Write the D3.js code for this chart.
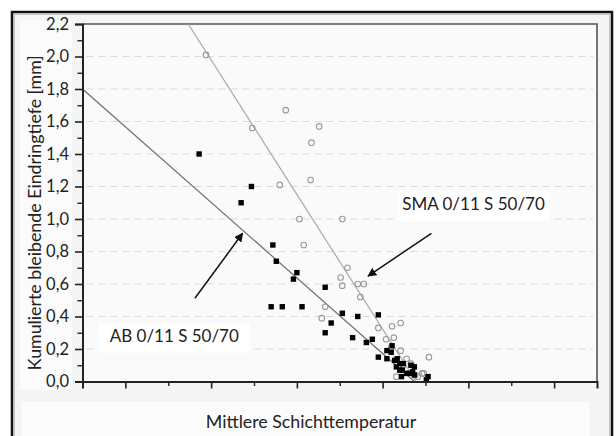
<!DOCTYPE html>
<html>
<head>
<meta charset="utf-8">
<script src="https://cdn.jsdelivr.net/npm/d3@7"></script>
<style>
  body { margin: 0; background: #fff; }
  svg { display: block; font-family: Lato, "Open Sans", sans-serif; }
</style>
</head>
<body>
<div id="chart"></div>
<script>
// Achsen
const yTicks = [0, 0.2, 0.4, 0.6, 0.8, 1.0, 1.2, 1.4, 1.6, 1.8, 2.0, 2.2];
const xMajor = [0, 10, 20, 30, 40, 50];
const xMinor = [5, 15, 25, 35, 45];

// AB 0/11 S 50/70 (schwarze Quadrate)
const abX = [8.6, 14.7, 13.5, 17.2, 17.6, 20.0, 19.6, 17.0, 18.3, 20.6, 23.3, 25.3, 27.1, 24.0, 23.3, 26.5, 29.5, 28.1, 28.8, 29.5,
  30.5, 31.1, 30.5, 31.0, 31.7, 32.0, 31.6, 32.0, 32.4, 32.8, 33.3, 33.7, 33.1, 33.7, 35.3, 35.1, 32.2, 31.4, 32.3, 33.5];
const abY = [1.40, 1.20, 1.10, 0.84, 0.74, 0.67, 0.63, 0.46, 0.46, 0.46, 0.58, 0.42, 0.40, 0.36, 0.30, 0.27, 0.41, 0.24, 0.26, 0.15,
  0.19, 0.22, 0.14, 0.18, 0.14, 0.11, 0.09, 0.07, 0.11, 0.05, 0.10, 0.09, 0.05, 0.04, 0.03, 0.01, 0.03, 0.13, 0.07, 0.06];

// SMA 0/11 S 50/70 (offene Kreise)
const smaX = [9.4, 14.8, 18.7, 22.6, 21.7, 18.0, 21.6, 20.3, 25.3, 20.8, 25.9, 25.1, 25.3, 27.1, 27.8, 27.4, 23.3, 22.9, 29.5, 31.1,
  32.1, 30.4, 31.3, 31.0, 32.1, 32.8, 35.4, 33.3, 31.6, 34.1, 34.8, 34.6, 33.8, 32.4];
const smaY = [2.01, 1.56, 1.67, 1.57, 1.47, 1.21, 1.24, 1.00, 1.00, 0.84, 0.70, 0.64, 0.59, 0.60, 0.60, 0.52, 0.46, 0.39, 0.33, 0.34,
  0.36, 0.26, 0.27, 0.21, 0.19, 0.14, 0.15, 0.11, 0.03, 0.03, 0.05, 0.05, 0.04, 0.10];

// Regressionsgeraden (Endpunkte)
const abLineX = [-5.0, 33.7];
const abLineY = [1.8, 0.0];
const smaLineX = [7.33, 33.9];
const smaLineY = [2.2, 0.0];

// Beschriftungen
const labels = ['SMA 0/11 S 50/70', 'AB 0/11 S 50/70'];
const labelX = [40.6, 5.7];
const labelY = [1.055, 0.245];
const arrowFromX = [35.69, 8.11];
const arrowFromY = [0.912, 0.512];
const arrowToX = [28.3, 13.67];
const arrowToY = [0.649, 0.912];

const W = 616, H = 436;
const margin = { top: 24, right: 19, bottom: 54.5, left: 82.5 };

const svg = d3.select('#chart').append('svg')
    .attr('width', W).attr('height', H);

// Hintergrund / Rahmen
svg.append('rect').attr('x', 12).attr('y', 12).attr('width', 600).attr('height', 440)
    .attr('fill', '#f4f4f4');
svg.append('rect').attr('x', 20).attr('y', 20).attr('width', 52).attr('height', 370)
    .attr('fill', '#fbfbfb');
svg.append('rect').attr('x', 22).attr('y', 402).attr('width', 568).attr('height', 40)
    .attr('fill', '#fcfcfc');
svg.append('rect').attr('x', 12).attr('y', 12).attr('width', 600).attr('height', 440)
    .attr('fill', 'none').attr('stroke', '#111').attr('stroke-width', 2.5);
svg.append('rect').attr('x', 14.5).attr('y', 14.5).attr('width', 595).attr('height', 435)
    .attr('fill', 'none').attr('stroke', '#c4c4c4').attr('stroke-width', 1);

const x = d3.scaleLinear().domain([-5, 55]).range([margin.left, W - margin.right]);
const y = d3.scaleLinear().domain([0, 2.2]).range([H - margin.bottom, margin.top]);

// Plotfläche
svg.append('rect')
    .attr('x', x(-5)).attr('y', y(2.2))
    .attr('width', x(55) - x(-5)).attr('height', y(0) - y(2.2))
    .attr('fill', '#fafafa');

// Gitterlinien
svg.append('g').selectAll('line')
    .data(yTicks.filter(d => d > 0 && d < 2.2))
    .join('line')
    .attr('x1', x(-5) + 4).attr('x2', x(55) - 4)
    .attr('y1', d => y(d)).attr('y2', d => y(d))
    .attr('stroke', '#d9d9d9').attr('stroke-width', 1)
    .attr('stroke-dasharray', '7,5');

// Rahmen oben/rechts
svg.append('path')
    .attr('d', `M${x(-5)},${y(2.2)}H${x(55)}V${y(0)}`)
    .attr('fill', 'none').attr('stroke', '#555').attr('stroke-width', 1.6);

// Regressionsgeraden
svg.append('line')
    .attr('x1', x(abLineX[0])).attr('y1', y(abLineY[0]))
    .attr('x2', x(abLineX[1])).attr('y2', y(abLineY[1]))
    .attr('stroke', '#6e6e6e').attr('stroke-width', 1.2);
svg.append('line')
    .attr('x1', x(smaLineX[0])).attr('y1', y(smaLineY[0]))
    .attr('x2', x(smaLineX[1])).attr('y2', y(smaLineY[1]))
    .attr('stroke', '#a8a8a8').attr('stroke-width', 1.2);

// Punkte SMA
svg.append('g').selectAll('circle')
    .data(d3.range(smaX.length))
    .join('circle')
    .attr('cx', i => x(smaX[i])).attr('cy', i => y(smaY[i]))
    .attr('r', 2.8)
    .attr('fill', 'none').attr('stroke', '#9a9a9a').attr('stroke-width', 1.1);

// Punkte AB
svg.append('g').selectAll('rect')
    .data(d3.range(abX.length))
    .join('rect')
    .attr('x', i => x(abX[i]) - 2.7).attr('y', i => y(abY[i]) - 2.7)
    .attr('width', 5.4).attr('height', 5.4)
    .attr('fill', '#000');

// Achsen
const yAxis = d3.axisLeft(y).tickValues(yTicks).tickSize(7.5).tickPadding(6)
    .tickFormat(d => d3.format('.1f')(d).replace('.', ','));
const gy = svg.append('g').attr('transform', `translate(${x(-5)},0)`).call(yAxis);
gy.selectAll('text').attr('font-size', 16.5).attr('fill', '#222').attr('font-family', 'Lato, sans-serif');
gy.selectAll('line, path').attr('stroke', '#222').attr('stroke-width', 1.6);
gy.select('.domain').attr('stroke-width', 2);

const yMinor = d3.axisLeft(y).tickValues(d3.range(0.1, 2.2, 0.2)).tickSize(5).tickFormat('');
svg.append('g').attr('transform', `translate(${x(-5)},0)`).call(yMinor)
    .call(g => g.select('.domain').remove())
    .selectAll('line').attr('stroke', '#222').attr('stroke-width', 1.4);

const xAxis = d3.axisBottom(x).tickValues(xMajor).tickSize(7).tickFormat('');
const gx = svg.append('g').attr('transform', `translate(0,${y(0)})`).call(xAxis);
gx.selectAll('line').attr('stroke', '#222').attr('stroke-width', 1.6);
gx.select('.domain').attr('stroke', '#222').attr('stroke-width', 2);

const xMin = d3.axisBottom(x).tickValues(xMinor).tickSize(4.5).tickFormat('');
svg.append('g').attr('transform', `translate(0,${y(0)})`).call(xMin)
    .call(g => g.select('.domain').remove())
    .selectAll('line').attr('stroke', '#222').attr('stroke-width', 1.4);

// Achsentitel
svg.append('text')
    .attr('transform', `translate(41,${(y(0) + y(2.2)) / 2 + 10}) rotate(-90)`)
    .attr('text-anchor', 'middle')
    .attr('font-size', 17.8).attr('fill', '#222')
    .text('Kumulierte bleibende Eindringtiefe [mm]');
svg.append('text')
    .attr('x', 311).attr('y', 428)
    .attr('text-anchor', 'middle')
    .attr('font-size', 17.8).attr('fill', '#222')
    .text('Mittlere Schichttemperatur');

// Pfeile
svg.append('defs').append('marker')
    .attr('id', 'head')
    .attr('viewBox', '0 0 10 10')
    .attr('refX', 9).attr('refY', 5)
    .attr('markerWidth', 9).attr('markerHeight', 9)
    .attr('markerUnits', 'userSpaceOnUse')
    .attr('orient', 'auto')
    .append('path').attr('d', 'M0,0L10,5L0,10Z').attr('fill', '#111');

svg.append('g').selectAll('line')
    .data(d3.range(labels.length))
    .join('line')
    .attr('x1', i => x(arrowFromX[i])).attr('y1', i => y(arrowFromY[i]))
    .attr('x2', i => x(arrowToX[i])).attr('y2', i => y(arrowToY[i]))
    .attr('stroke', '#111').attr('stroke-width', 1.5)
    .attr('marker-end', 'url(#head)');

// Textboxen
const lab = svg.append('g').selectAll('g')
    .data(d3.range(labels.length))
    .join('g')
    .attr('transform', i => `translate(${x(labelX[i])},${y(labelY[i])})`);
lab.append('rect')
    .attr('x', -76).attr('y', -18).attr('width', 152).attr('height', 29)
    .attr('fill', '#fff');
lab.append('text')
    .attr('text-anchor', 'middle')
    .attr('font-size', 17).attr('fill', '#222')
    .text(i => labels[i]);
</script>
</body>
</html>
